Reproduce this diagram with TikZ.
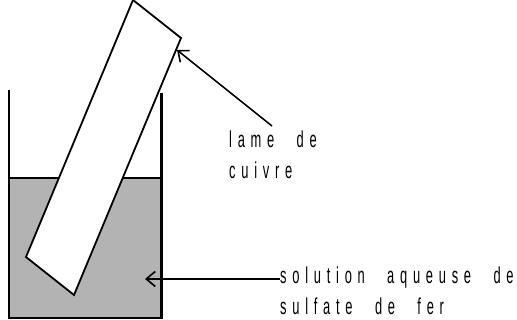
\documentclass[tikz,border=0pt]{standalone}
\usepackage{xcolor}
\usepackage{fontspec}
\usepackage{tikz}
\usetikzlibrary{arrows.meta, positioning}
\newfontfamily\labelfont[FakeStretch=0.56, LetterSpace=25, WordSpace=2.4]{Liberation Sans}
\definecolor{liquidgray}{HTML}{B3B3B3}

\begin{document}
\begin{tikzpicture}[
    x=1pt, y=-1pt,
    wall/.style={draw=black, line width=2.6pt},
    blade/.style={draw=black, fill=white, line width=1.8pt, line join=miter},
    arrow/.style={-{Straight Barb[length=9pt, width=15pt, line width=1.6pt]}},
    lbl/.style={font=\labelfont\fontsize{23}{30.5}\selectfont, align=left, inner sep=0pt, anchor=north west}
]
    \useasboundingbox (0,0) rectangle (517,320);

    % beaker and liquid
    \fill[liquidgray] (9,178) rectangle (161.5,318);
    \draw[wall] (9,90) -- (9,318) -- (161.5,318) -- (161.5,93);
    \draw[draw=black, line width=1.8pt] (9,178) -- (161.5,178);

    % copper strip
    \draw[blade] (133,0) -- (181,38) -- (74,295) -- (26,257) -- cycle;

    \node[lbl] (lame) at (229,131) {lame de\\cuivre};
    \node[lbl] (solution) at (280,267) {solution aqueuse de\\sulfate de fer};

    \coordinate (lamestart) at (272,126);
    \coordinate (lameend) at (177,50);
    \coordinate (solutionend) at (145,279);

    \draw[arrow, line width=1.5pt] (lamestart) -- (lameend);
    \draw[arrow, line width=2.6pt] (solution.west |- solutionend) -- (solutionend);
\end{tikzpicture}
\end{document}
